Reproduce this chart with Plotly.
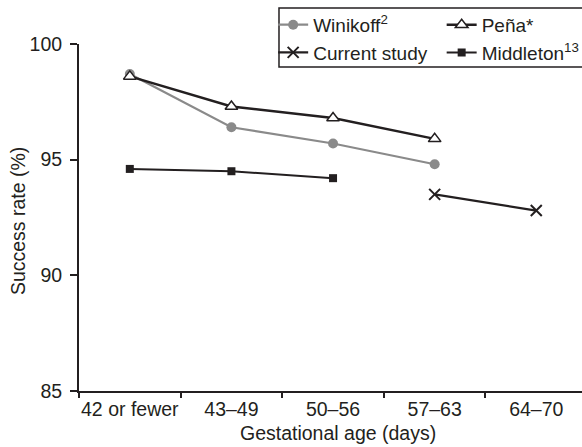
import plotly.graph_objects as go

categories = ["42 or fewer", "43–49", "50–56", "57–63", "64–70"]
winikoff = [98.7, 96.4, 95.7, 94.8, None]
pena = [98.6, 97.3, 96.8, 95.9, None]
current = [None, None, None, 93.5, 92.8]
middleton = [94.6, 94.5, 94.2, None, None]
y_ticks = [85, 90, 95, 100]
y_ticklabels = ["85", "90", "95", "100"]
x_title = "Gestational age (days)"
y_title = "Success rate (%)"

DARK = "#231f20"
GRAY = "#8a8a8a"
FONT = "Liberation Sans, Arial, sans-serif"
FS = 19.5

fig = go.Figure()
fig.add_trace(go.Scatter(
    x=categories, y=winikoff, name="Winikoff<sup>2</sup>", mode="lines+markers",
    line=dict(color=GRAY, width=2.2),
    marker=dict(symbol="circle", size=10, color=GRAY),
    legend="legend"))
fig.add_trace(go.Scatter(
    x=categories, y=pena, name="Peña*", mode="lines+markers",
    line=dict(color=DARK, width=2.4),
    marker=dict(symbol="triangle-up", size=11, color="white",
                line=dict(color=DARK, width=1.5)),
    legend="legend2"))
fig.add_trace(go.Scatter(
    x=categories, y=current, name="Current study", mode="lines+markers",
    line=dict(color=DARK, width=2.2),
    marker=dict(symbol="x-thin", size=11, color=DARK,
                line=dict(color=DARK, width=2)),
    legend="legend"))
fig.add_trace(go.Scatter(
    x=categories, y=middleton, name="Middleton<sup>13</sup>", mode="lines+markers",
    line=dict(color=DARK, width=2),
    marker=dict(symbol="square", size=8, color=DARK),
    legend="legend2"))

legend_common = dict(
    font=dict(family=FONT, size=19, color=DARK),
    bgcolor="rgba(0,0,0,0)", borderwidth=0,
    orientation="v", xanchor="left", yanchor="top",
    itemclick=False, tracegroupgap=0,
)

fig.update_layout(
    width=582, height=447,
    margin=dict(l=79, r=0, t=44, b=56, autoexpand=False),
    paper_bgcolor="white", plot_bgcolor="white",
    font=dict(family=FONT, size=FS, color=DARK),
    legend=dict(x=0.386, y=1.110, **legend_common),
    legend2=dict(x=0.721, y=1.110, **legend_common),
    xaxis=dict(
        type="category", categoryorder="array", categoryarray=categories,
        range=[-0.5, 4.45], tickson="boundaries", tickangle=0, automargin=False,
        showline=True, linecolor=DARK, linewidth=2,
        ticks="outside", ticklen=5, tickwidth=1.5, tickcolor=DARK,
        showgrid=False, zeroline=False,
        tickfont=dict(family=FONT, size=FS, color=DARK),
    ),
    yaxis=dict(
        range=[85, 100], tickvals=y_ticks, ticktext=y_ticklabels, automargin=False,
        showline=True, linecolor=DARK, linewidth=2,
        ticks="outside", ticklen=7, tickwidth=1.5, tickcolor=DARK,
        ticklabelstandoff=4,
        showgrid=False, zeroline=False,
        tickfont=dict(family=FONT, size=FS, color=DARK),
    ),
    annotations=[
        dict(text=x_title, xref="paper", yref="paper", x=0.515, y=-0.121,
             xanchor="center", yanchor="middle", showarrow=False,
             font=dict(family=FONT, size=FS, color=DARK)),
        dict(text=y_title, xref="paper", yref="paper", x=-0.121, y=0.49,
             xanchor="center", yanchor="middle", showarrow=False, textangle=-90,
             font=dict(family=FONT, size=FS, color=DARK)),
    ],
    shapes=[dict(type="rect", xref="paper", yref="paper",
                 x0=0.3976, x1=1.02, y0=0.9337, y1=1.1037,
                 line=dict(color=DARK, width=1.5), fillcolor="rgba(0,0,0,0)")],
)

fig.write_html("out.html", config={"displayModeBar": False},
               post_script="document.body.style.margin='0';document.body.style.padding='0';")
